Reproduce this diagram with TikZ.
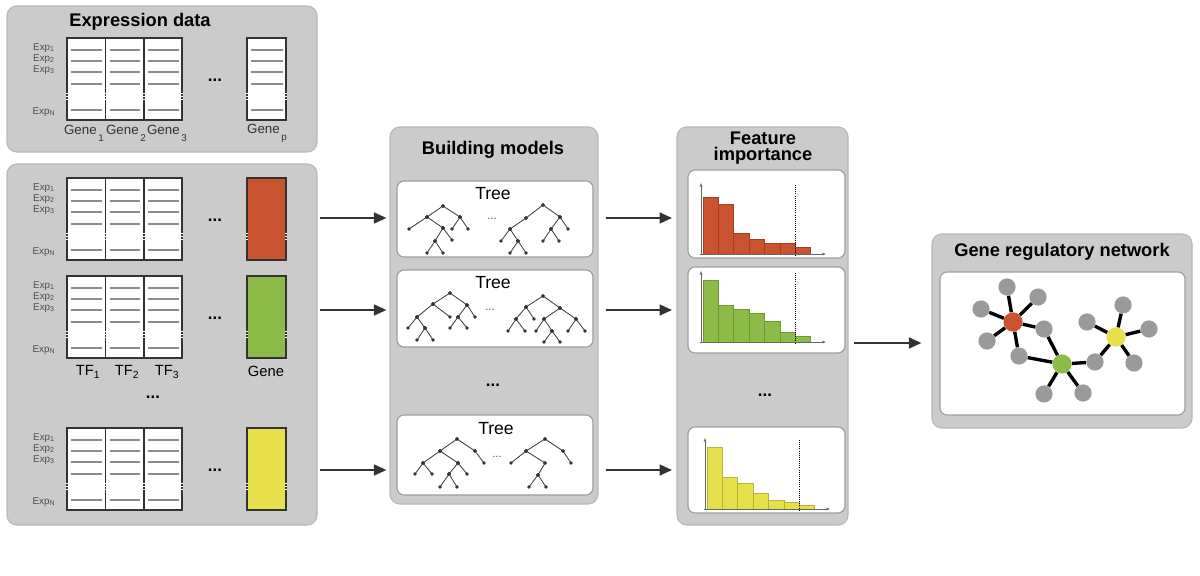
\documentclass[tikz,border=0pt]{standalone}
\usepackage{fontspec}
\setmainfont{Liberation Sans}
\usepackage{tikz}
\usetikzlibrary{arrows.meta, fit}

\definecolor{panelgray}{HTML}{CBCBCB}
\definecolor{hubred}{HTML}{C9532E}
\definecolor{hubgreen}{HTML}{8DBB48}
\definecolor{hubyellow}{HTML}{E8E04A}
\definecolor{nodegray}{HTML}{9A9A9A}
\definecolor{rowgray}{HTML}{8C8C8C}

\tikzset{
    panel/.style={draw=black!28, fill=panelgray, rounded corners=7pt, line width=0.8pt, inner sep=0pt},
    whitebox/.style={draw=black!38, fill=white, rounded corners=5pt, line width=0.8pt, inner sep=0pt},
    paneltitle/.style={font=\bfseries\fontsize{13}{11.5}\selectfont, align=center, inner sep=0pt},
    matframe/.style={draw=black!80, line width=1.3pt},
    rowline/.style={draw=rowgray, line width=1.3pt},
    explabel/.style={font=\fontsize{7}{7}\selectfont, text=black!70, inner sep=0pt},
    genelabel/.style={font=\fontsize{9.5}{10}\selectfont, text=black!80, inner sep=0pt},
    collabel/.style={font=\fontsize{10.5}{11}\selectfont, inner sep=0pt},
    treelabel/.style={font=\fontsize{12.5}{13}\selectfont, inner sep=0pt},
    moredots/.style={font=\bfseries\fontsize{12}{12}\selectfont, inner sep=0pt},
    treedots/.style={font=\fontsize{8}{8}\selectfont, text=black!70, inner sep=0pt},
    flowarrow/.style={draw=black!80, line width=2pt, -{Triangle[length=9pt,width=7.5pt]}},
    treeedge/.style={draw=black!75, line width=0.6pt},
    axis/.style={draw=black!60, line width=0.5pt, -{Stealth[length=3pt,width=2pt]}},
    bar/.style={line width=0.5pt},
    gnode/.style={circle, fill=nodegray, minimum size=0.43cm, inner sep=0pt},
    hub/.style={circle, minimum size=0.48cm, inner sep=0pt},
    netedge/.style={draw=black, line width=2.4pt},
    pics/expmat/.style={code={
        \fill[white] (0,0) rectangle (115,82);
        \foreach \c in {0,38.5,77}
            \foreach \r in {12,23,34,46,72}
                \draw[rowline] (\c+4,\r) -- (\c+34.5,\r);
        \draw[matframe] (0,0) rectangle (115,82);
        \foreach \c in {38.5,77}
            \draw[matframe] (\c,0) -- (\c,82);
        \draw[matframe, fill=#1] (180,0) rectangle (219,82);
        \foreach \c in {0,38.5,77,115,180,219}
            \draw[white, line width=1.6pt, dash pattern=on 1pt off 1pt] (\c,55) -- (\c,63);
        \node[explabel] (-e1) at (-23,10) {Exp\textsubscript{1}};
        \node[explabel] (-e2) at (-23,21) {Exp\textsubscript{2}};
        \node[explabel] (-e3) at (-23,32) {Exp\textsubscript{3}};
        \node[explabel] (-en) at (-23,74) {Exp\textsubscript{N}};
        \node[moredots] (-dots) at (148,42) {...};
    }},
    pics/dtree/.style={code={
        \foreach \ax/\ay/\bx/\by in {#1} {
            \draw[treeedge] (\ax,\ay) -- (\bx,\by);
            \fill[black!80] (\ax,\ay) circle (1.8) (\bx,\by) circle (1.8);
        }
    }},
}

\begin{document}
\begin{tikzpicture}[x=0.025cm, y=-0.025cm]
        \useasboundingbox (0,0) rectangle (1200,576);

        \node[panel, fit={(7,6) (317,152)}] (exprpanel) {};
        \node[paneltitle] (exprtitle) at (140,22) {Expression data};
        \node[panel, fit={(7,164) (317,525)}] (inputpanel) {};
        \node[panel, fit={(390,127) (598,504)}] (buildpanel) {};
        \node[paneltitle] (buildtitle) at (493,150) {Building models};
        \node[panel, fit={(677,127) (848,525)}] (featpanel) {};
        \node[paneltitle] (feattitle) at (763,148) {Feature\\importance};
        \node[panel, fit={(932,234) (1192,428)}] (netpanel) {};
        \node[paneltitle] (nettitle) at (1062,252) {Gene regulatory network};

        \pic (m0) at (67,38) {expmat=white};
        \foreach \r in {50,61,72,84,110}
            \draw[rowline] (251,\r) -- (283,\r);
        \node[genelabel] (g1) at (84,133) {Gene\raisebox{-5pt}{\fontsize{7}{7}\selectfont\,1}};
        \node[genelabel] (g2) at (126,133) {Gene\raisebox{-5pt}{\fontsize{7}{7}\selectfont\,2}};
        \node[genelabel] (g3) at (167,133) {Gene\raisebox{-5pt}{\fontsize{7}{7}\selectfont\,3}};
        \node[genelabel] (gp) at (267,133) {Gene\raisebox{-5pt}{\fontsize{7}{7}\selectfont\,p}};

        \pic (m1) at (67,178) {expmat=hubred};
        \pic (m2) at (67,276) {expmat=hubgreen};
        \pic (m3) at (67,428) {expmat=hubyellow};
        \node[collabel] (tf1) at (88,372) {TF\textsubscript{1}};
        \node[collabel] (tf2) at (127,372) {TF\textsubscript{2}};
        \node[collabel] (tf3) at (167,372) {TF\textsubscript{3}};
        \node[collabel] (gene) at (266,371) {Gene};
        \node[moredots] (inputdots) at (153,397) {...};

        \node[whitebox, fit={(397,181) (593,257)}] (tbox1) {};
        \node[whitebox, fit={(397,270) (593,347)}] (tbox2) {};
        \node[whitebox, fit={(397,415) (593,495)}] (tbox3) {};
        \node[treelabel] (tlab1) at (493,194) {Tree};
        \node[treelabel] (tlab2) at (493,283) {Tree};
        \node[treelabel] (tlab3) at (496,429) {Tree};
        \node[moredots] (builddots) at (493,385) {...};

        \pic at (443,206) {dtree={0/0/-16/11, 0/0/17/11, -16/11/-34/23, -16/11/0/22, 17/11/9/23, 17/11/25/23, 0/22/-8/35, 0/22/9/34, -8/35/-16/47, -8/35/0/47}};
        \pic at (543,205) {dtree={0/0/-17/13, 0/0/17/12, -17/13/-33/24, 17/12/8/24, 17/12/25/24, -33/24/-42/36, -33/24/-25/36, -25/36/-33/48, -25/36/-17/48, 8/24/0/36, 8/24/16/36}};
        \pic at (450,293) {dtree={0/0/-17/11, 0/0/17/12, -17/11/-33/24, -17/11/0/24, 17/12/8/24, 17/12/25/24, -33/24/-42/35, -33/24/-25/35, -25/35/-33/47, -25/35/-17/47, 8/24/0/35, 8/24/17/35}};
        \pic at (543,296) {dtree={0/0/-17/11, 0/0/17/12, -17/11/-27/23, -17/11/-9/23, 17/12/1/23, 17/12/33/23, -27/23/-35/35, -27/23/-18/35, 1/23/-7/35, 1/23/9/35, 33/23/25/35, 33/23/42/35, 9/35/1/46, 9/35/17/46}};
        \pic at (457,439) {dtree={0/0/-17/12, 0/0/18/12, -17/12/-34/24, -17/12/1/24, 18/12/27/24, -34/24/-42/35, -34/24/-25/35, 1/24/-8/35, 1/24/10/35, -8/35/-17/48, -8/35/0/48}};
        \pic at (545,439) {dtree={0/0/-19/12, 0/0/18/12, -19/12/-34/24, -19/12/0/24, 18/12/26/24, 0/24/-7/36, -7/36/-16/48, -7/36/1/48}};
        \node[treedots] (tdots1) at (492,219) {...};
        \node[treedots] (tdots2) at (490,310) {...};
        \node[treedots] (tdots3) at (497,457) {...};

        \node[whitebox, fit={(688,170) (845,258)}] (cbox1) {};
        \node[whitebox, fit={(688,267) (845,353)}] (cbox2) {};
        \node[whitebox, fit={(688,427) (845,513)}] (cbox3) {};
        \node[moredots] (featdots) at (765,395) {...};
        \foreach \cx/\cy/\col/\hs in {703/254/hubred/{57,50,21,15,11,11,7}, 703/342/hubgreen/{62,37,33,29,21,10,6}, 707/509/hubyellow/{62,32,26,16,9,7,4}} {
            \foreach \h [count=\i from 0] in \hs
                \draw[bar, draw=\col!80!black, fill=\col] (\cx+15.4*\i,\cy) rectangle ++(15.4,-\h);
            \draw[axis] (\cx-2,\cy+1) -- (\cx-2,\cy-71);
            \draw[axis] (\cx-3,\cy) -- (\cx+123,\cy);
            \draw[densely dotted, line width=0.5pt] (\cx+92.4,\cy-69) -- (\cx+92.4,\cy+1);
        }

        \node[whitebox, fit={(940,272) (1185,415)}] (netbox) {};
        \node[hub, fill=hubred] (red) at (1013,322) {};
        \node[hub, fill=hubgreen] (green) at (1062,364) {};
        \node[hub, fill=hubyellow] (yellow) at (1116,337) {};
        \foreach \n/\px/\py in {r1/1007/287, r2/1038/297, r3/981/309, r4/987/341, b1/1044/329, b2/1019/356, g1/1044/394, g2/1083/393, b3/1095/362, y1/1087/322, y2/1123/305, y3/1149/329, y4/1134/363}
            \node[gnode] (\n) at (\px,\py) {};
        \foreach \a/\b in {red/r1, red/r2, red/r3, red/r4, red/b1, red/b2, green/b1, green/b2, green/g1, green/g2, green/b3, yellow/b3, yellow/y1, yellow/y2, yellow/y3, yellow/y4}
            \draw[netedge] (\a) -- (\b);

        \coordinate (a1) at (0,218);
        \coordinate (a2) at (0,310);
        \coordinate (a3) at (0,470);
        \coordinate (a4) at (0,343);
        \foreach \a in {a1,a2,a3} {
            \draw[flowarrow, shorten <=2pt, shorten >=2pt] (inputpanel.east |- \a) -- (buildpanel.west |- \a);
            \draw[flowarrow, shorten <=5pt, shorten >=3pt] (buildpanel.east |- \a) -- (featpanel.west |- \a);
        }
        \draw[flowarrow, shorten <=4pt, shorten >=7pt] (featpanel.east |- a4) -- (netpanel.west |- a4);
\end{tikzpicture}
\end{document}
